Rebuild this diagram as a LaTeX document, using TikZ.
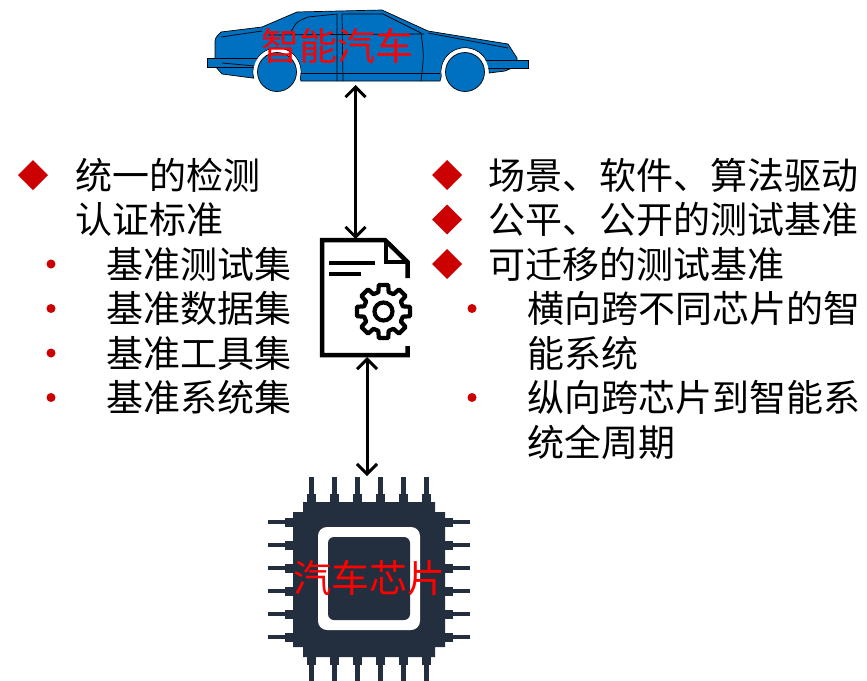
\documentclass[tikz,border=0pt]{standalone}
\usepackage{fontspec}
\setmainfont{Noto Sans CJK SC}
\usetikzlibrary{arrows.meta}
\definecolor{carblue}{RGB}{0,112,192}
\definecolor{bulletred}{RGB}{204,0,0}
\definecolor{labelred}{RGB}{255,0,0}
\definecolor{chipnavy}{RGB}{35,47,62}

\begin{document}
\begin{tikzpicture}[x=1pt,y=-1pt,
  txt/.style={anchor=base west, font=\fontsize{37}{37}\selectfont, inner sep=0pt},
  tag/.style={font=\fontsize{38}{38}\selectfont, text=labelred, inner sep=0pt},
  barb/.tip={Straight Barb[length=10pt,width=20pt,line width=3pt]},
  link/.style={line width=3pt, barb-barb},
  icon/.style={line width=4.5pt, line cap=butt, line join=miter},
  carline/.style={line width=0.7pt},
  bigbullet/.style={fill=bulletred},
  smallbullet/.style={fill=bulletred}
]
\useasboundingbox (0,0) rectangle (867,680);

% ---------- car ----------
\begin{scope}[carline]
  \draw[fill=carblue] (221,32) -- (262,27) -- (297,12) -- (382,10) -- (428,31)
    -- (508,44) -- (517,58) -- (517,66) -- (505,71) -- (489,73)
    arc[start angle=3, end angle=-190, radius=24]
    -- (440,81) -- (301,81) -- (300.2,78.2)
    arc[start angle=15, end angle=-195, radius=24]
    -- (222,74) -- (215,66) -- (215,45) .. controls (215,38) .. (221,32) -- cycle;
  \draw[fill=carblue] (207,58) rectangle (258,67);
  \draw[fill=carblue] (484,60) rectangle (528,68);
  \draw (221,37) -- (262,31);
  \draw (290,34) .. controls (296,22) .. (308,17) -- (337,14) -- (337,81);
  \draw (342,14) -- (383,14) -- (421,33);
  \draw (268,35) -- (424,34);
  \draw (342,14) -- (343,81);
  \draw (421,33) .. controls (424,55) .. (421,81);
  \draw (428,33) -- (508,48);
  \draw (300,73) -- (440,73);
  \draw (222,63) -- (255,66);
  \fill[white] (277,72) circle[radius=23.6];
  \fill[white] (465,72) circle[radius=23.6];
  \draw[fill=carblue] (277,72) circle[radius=19.5];
  \draw[fill=carblue] (465,72) circle[radius=19.5];
\end{scope}
\node[tag] (car) at (337,46) {智能汽车};

% ---------- document with gear ----------
\draw[icon] (407.5,278) -- (407.5,262) -- (385,240) -- (322,240) -- (322,355)
  -- (407.5,355) -- (407.5,346);
\draw[icon, line width=4pt] (386,240) -- (386,262) -- (407.5,262);
\draw[icon] (329,263) -- (375,263);
\draw[icon] (329,274) -- (361,274);
\begin{scope}[shift={(383.5,311.5)}]
  \draw[line width=4.2pt, line join=round, fill=white] (-15:20)
    \foreach \a in {0,45,...,315}{
      -- ({\a-15}:20) -- ({\a-10}:27) -- ({\a+10}:27) -- ({\a+15}:20)
      arc[start angle=\a+15, end angle=\a+30, radius=20]
    } -- cycle;
  \draw[line width=4.2pt] (0,0) circle[radius=9];
\end{scope}

% ---------- chip ----------
\fill[chipnavy] (303,502) -- (435,502) -- (435,512) -- (445,512) -- (445,647)
  -- (435,647) -- (435,657) -- (303,657) -- (303,647) -- (293,647) -- (293,512)
  -- (303,512) -- cycle;
\foreach \p in {-57.5,-34.5,-11.5,11.5,34.5,57.5}{
  \fill[chipnavy] ({369+\p-2.25},477) rectangle ({369+\p+2.25},502);
  \fill[chipnavy] ({369+\p-4.5},494) rectangle ({369+\p+4.5},502);
  \fill[chipnavy] ({369+\p-2.25},657) rectangle ({369+\p+2.25},682);
  \fill[chipnavy] ({369+\p-4.5},657) rectangle ({369+\p+4.5},665);
  \fill[chipnavy] (268,{579.5+\p-2.25}) rectangle (293,{579.5+\p+2.25});
  \fill[chipnavy] (285,{579.5+\p-4.5}) rectangle (293,{579.5+\p+4.5});
  \fill[chipnavy] (445,{579.5+\p-2.25}) rectangle (470,{579.5+\p+2.25});
  \fill[chipnavy] (445,{579.5+\p-4.5}) rectangle (453,{579.5+\p+4.5});
}
\fill[white, rounded corners=9] (318,527) rectangle (420,630);
\fill[chipnavy, rounded corners=6] (328,537) rectangle (410,620);
\node[tag] (chip) at (369,578) {汽车芯片};

% ---------- connectors ----------
\coordinate (carB) at (355.5,85);
\coordinate (docT) at (355.5,239);
\coordinate (docB) at (367,357);
\coordinate (chipT) at (367,476);
\draw[link] (carB) -- (docT);
\draw[link] (docB) -- (chipT);

% ---------- left list ----------
\fill[bigbullet] (33,160) -- (48,175) -- (33,190) -- (18,175) -- cycle;
\foreach \y in {264,308.5,353,397.5}{\fill[smallbullet] (51,\y) circle[radius=4.5];}
\node[txt] (l1) at (75,189) {统一的检测};
\node[txt] (l2) at (75,233.5) {认证标准};
\node[txt] (l3) at (106,278) {基准测试集};
\node[txt] (l4) at (106,322.5) {基准数据集};
\node[txt] (l5) at (106,367) {基准工具集};
\node[txt] (l6) at (106,411.5) {基准系统集};

% ---------- right list ----------
\foreach \y in {175,219.5,264}{
  \fill[bigbullet] (447,\y-15) -- (462,\y) -- (447,\y+15) -- (432,\y) -- cycle;}
\foreach \y in {308.5,397.5}{\fill[smallbullet] (472,\y) circle[radius=4.5];}
\node[txt] (r1) at (488,189) {场景、软件、算法驱动};
\node[txt] (r2) at (488,233.5) {公平、公开的测试基准};
\node[txt] (r3) at (488,278) {可迁移的测试基准};
\node[txt] (r4) at (527,322.5) {横向跨不同芯片的智};
\node[txt] (r5) at (527,367) {能系统};
\node[txt] (r6) at (527,411.5) {纵向跨芯片到智能系};
\node[txt] (r7) at (527,456) {统全周期};
\end{tikzpicture}
\end{document}
